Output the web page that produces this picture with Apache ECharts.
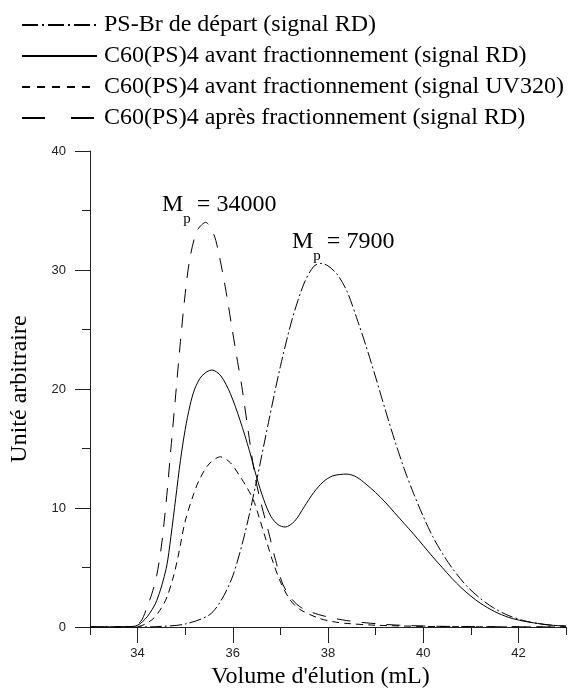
<!DOCTYPE html>
<html>
<head>
<meta charset="utf-8">
<script src="https://cdn.jsdelivr.net/npm/echarts@6/dist/echarts.min.js"></script>
<style>
  html, body { margin: 0; padding: 0; background: #fff; }
  #chart { width: 572px; height: 697px; }
</style>
</head>
<body>
<div id="chart"></div>
<script>
// Elution volumes (mL) and detector signals (arbitrary units) for each trace
const psBrVolume = [33.0, 34.0, 34.5, 35.0, 35.5, 35.75, 36.0, 36.25, 36.5, 36.75, 37.0, 37.25, 37.5, 37.7, 37.85, 38.0, 38.2, 38.4, 38.6, 38.8, 39.0, 39.2, 39.4, 39.6, 39.8, 40.0, 40.2, 40.4, 40.6, 40.9, 41.2, 41.5, 41.8, 42.1, 42.4, 42.7, 43.0];
const psBrSignal = [0, 0, 0.05, 0.25, 1.0, 2.2, 4.3, 7.8, 12.3, 17.2, 21.9, 25.9, 28.9, 30.3, 30.55, 30.35, 29.6, 28.2, 26.0, 23.6, 21.0, 18.3, 15.7, 13.3, 11.2, 9.3, 7.6, 6.2, 5.0, 3.5, 2.4, 1.55, 0.95, 0.55, 0.3, 0.15, 0.08];

const avantRdVolume = [33.0, 33.8, 34.0, 34.2, 34.4, 34.6, 34.7, 34.8, 34.9, 35.0, 35.1, 35.2, 35.35, 35.56, 35.75, 35.95, 36.15, 36.35, 36.5, 36.65, 36.8, 36.95, 37.1, 37.3, 37.5, 37.7, 37.9, 38.1, 38.4, 38.6, 38.8, 39.0, 39.2, 39.4, 39.6, 39.8, 40.0, 40.2, 40.4, 40.6, 40.8, 41.0, 41.2, 41.5, 41.8, 42.1, 42.4, 42.7, 43.0];
const avantRdSignal = [0, 0.02, 0.15, 0.85, 2.2, 4.9, 7.6, 10.8, 14.0, 16.6, 18.6, 20.0, 21.1, 21.6, 21.1, 19.6, 17.4, 14.8, 12.6, 10.7, 9.3, 8.6, 8.4, 8.9, 10.1, 11.3, 12.2, 12.7, 12.85, 12.6, 12.0, 11.3, 10.5, 9.6, 8.7, 7.8, 6.85, 5.9, 5.0, 4.1, 3.3, 2.6, 2.0, 1.3, 0.8, 0.5, 0.3, 0.15, 0.08];

const avantUvVolume = [33.0, 34.0, 34.3, 34.5, 34.62, 34.75, 34.85, 35.0, 35.18, 35.3, 35.5, 35.74, 35.95, 36.16, 36.3, 36.43, 36.57, 36.7, 36.85, 37.0, 37.2, 37.4, 37.8, 38.1, 38.4, 39.0, 40.0, 41.0, 43.0];
const avantUvSignal = [0, 0.05, 0.6, 1.6, 2.55, 4.2, 5.9, 8.9, 11.2, 12.4, 13.7, 14.3, 13.8, 12.6, 11.7, 10.7, 9.0, 7.3, 5.4, 3.8, 2.3, 1.5, 0.75, 0.45, 0.3, 0.15, 0.05, 0.02, 0];

const apresRdVolume = [33.0, 33.8, 34.06, 34.2, 34.3, 34.4, 34.5, 34.6, 34.7, 34.8, 34.9, 35.0, 35.1, 35.25, 35.43, 35.6, 35.7, 35.84, 35.98, 36.1, 36.19, 36.33, 36.47, 36.6, 36.75, 36.9, 37.05, 37.25, 37.45, 37.8, 38.3, 38.8, 39.5, 40.5, 43.0];
const apresRdSignal = [0, 0.02, 0.45, 1.7, 2.8, 4.3, 6.8, 10.5, 15.0, 19.5, 24.0, 28.0, 31.0, 33.3, 34.0, 33.0, 31.5, 28.6, 25.2, 22.3, 20.2, 16.3, 12.6, 10.3, 8.0, 5.6, 3.6, 2.3, 1.6, 1.05, 0.6, 0.35, 0.15, 0.05, 0];

// Axis ticks
const xMajorTicks = [34, 36, 38, 40, 42];
const xMinorTicks = [33, 35, 37, 39, 41, 43];

const pairs = (xs, ys) => xs.map((x, i) => [x, ys[i]]);

const serif = 'Liberation Serif';
const sans = 'Liberation Sans';
const ink = '#000';
const axisInk = '#222';

const chart = echarts.init(document.getElementById('chart'), null, { renderer: 'canvas' });

const lineSeries = (name, xs, ys, type) => ({
  name,
  type: 'line',
  data: pairs(xs, ys),
  xAxisIndex: 0,
  yAxisIndex: 0,
  symbol: 'none',
  smooth: 0.3,
  animation: false,
  itemStyle: { color: ink },
  lineStyle: { color: ink, width: 1, type }
});

// M with subscript p, followed by the peak molar mass
const massLabel = (left, top, value) => ({
  type: 'text', left, top,
  style: {
    text: '{m|M}{s|p}{m| = ' + value + '}',
    rich: {
      m: { fontFamily: serif, fontSize: 24, fill: ink, lineHeight: 30, verticalAlign: 'top' },
      s: { fontFamily: serif, fontSize: 15, fill: ink, lineHeight: 30, verticalAlign: 'bottom', padding: [0, 0, -4, 0] }
    }
  }
});

chart.setOption({
  animation: false,
  grid: { left: 89, right: 6, top: 151, bottom: 70, containLabel: false },
  legend: {
    orient: 'vertical',
    left: 16,
    top: 8,
    itemWidth: 75,
    itemHeight: 10,
    itemGap: 7,
    selectedMode: false,
    itemStyle: { opacity: 0 },
    textStyle: { fontFamily: serif, fontSize: 24, color: ink, lineHeight: 24, padding: [0, 0, 0, 2] },
    data: [
      { name: 'PS-Br de départ (signal RD)', lineStyle: { type: [16, 4, 2, 4] } },
      { name: 'C60(PS)4 avant fractionnement (signal RD)' },
      { name: 'C60(PS)4 avant fractionnement (signal UV320)', lineStyle: { type: [8, 7] } },
      { name: 'C60(PS)4 après fractionnement (signal RD)', lineStyle: { type: [23, 26] } }
    ]
  },
  xAxis: [
    {
      type: 'value', min: 33, max: 43, position: 'bottom',
      name: "Volume d'élution (mL)", nameLocation: 'middle', nameGap: 33,
      nameTextStyle: { fontFamily: serif, fontSize: 24, color: ink, padding: [0, 15, 0, 0] },
      axisLine: { show: true, onZero: false, lineStyle: { color: axisInk, width: 1 } },
      axisTick: { show: true, customValues: xMajorTicks, length: 16, lineStyle: { color: axisInk } },
      axisLabel: { customValues: xMajorTicks, margin: 20, fontFamily: sans, fontSize: 13, color: axisInk },
      splitLine: { show: false }
    },
    {
      type: 'value', min: 33, max: 43, position: 'bottom',
      axisLine: { show: false },
      axisTick: { show: true, customValues: xMinorTicks, length: 8, lineStyle: { color: axisInk } },
      axisLabel: { show: false },
      splitLine: { show: false }
    }
  ],
  yAxis: {
    type: 'value', min: 0, max: 40, interval: 10,
    name: 'Unité arbitraire', nameLocation: 'middle', nameGap: 58, nameRotate: 90,
    nameTextStyle: { fontFamily: serif, fontSize: 24, color: ink },
    axisLine: { show: true, lineStyle: { color: axisInk, width: 1 } },
    axisTick: { show: true, length: 15, lineStyle: { color: axisInk } },
    minorTick: { show: true, splitNumber: 2, length: 8, lineStyle: { color: axisInk } },
    axisLabel: { margin: 24, fontFamily: sans, fontSize: 13, color: axisInk },
    splitLine: { show: false },
    minorSplitLine: { show: false }
  },
  graphic: [
    massLabel(162, 193, '34000'),
    massLabel(292, 230, '7900')
  ],
  series: [
    lineSeries('PS-Br de départ (signal RD)', psBrVolume, psBrSignal, [12, 3, 2, 3]),
    lineSeries('C60(PS)4 avant fractionnement (signal RD)', avantRdVolume, avantRdSignal, 'solid'),
    lineSeries('C60(PS)4 avant fractionnement (signal UV320)', avantUvVolume, avantUvSignal, [7, 5]),
    lineSeries('C60(PS)4 après fractionnement (signal RD)', apresRdVolume, apresRdSignal, [14, 11])
  ]
});
</script>
</body>
</html>
